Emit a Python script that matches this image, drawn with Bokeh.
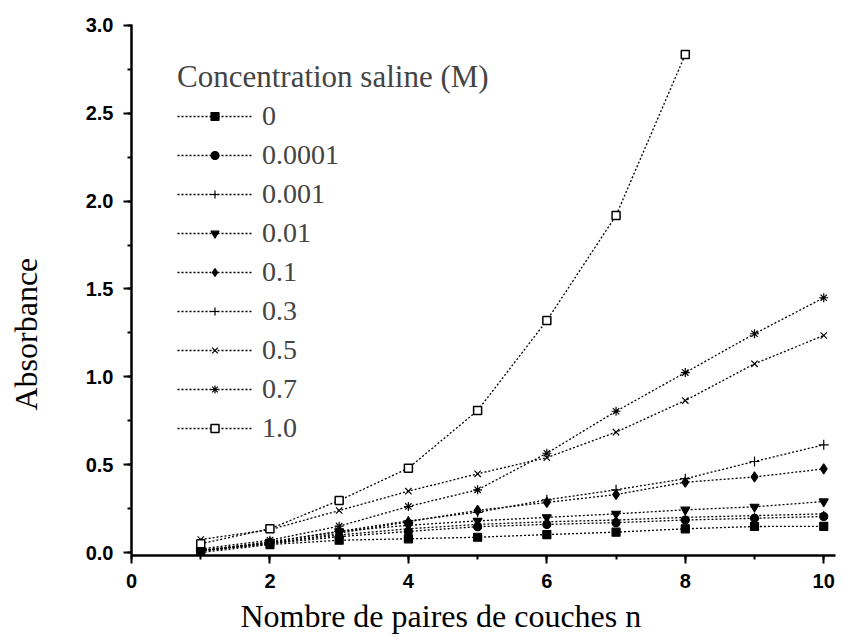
from bokeh.plotting import figure
from bokeh.models import (Range1d, SingleIntervalTicker, FixedTicker, Legend, LegendItem,
                          Title, LinearAxis, PrintfTickFormatter)
from bokeh.embed import file_html
from bokeh.resources import INLINE

# ---- data ----
n_layers = [1, 2, 3, 4, 5, 6, 7, 8, 9, 10]
n_layers_1M = [1, 2, 3, 4, 5, 6, 7, 8]

abs_0 = [0.00, 0.045, 0.07, 0.078, 0.087, 0.102, 0.116, 0.135, 0.148, 0.149]
abs_00001 = [0.01, 0.05, 0.09, 0.12, 0.147, 0.16, 0.17, 0.185, 0.195, 0.205]
abs_0001 = [0.01, 0.055, 0.10, 0.135, 0.16, 0.175, 0.185, 0.20, 0.21, 0.22]
abs_001 = [0.01, 0.06, 0.12, 0.155, 0.18, 0.20, 0.22, 0.243, 0.26, 0.29]
abs_01 = [0.01, 0.05, 0.11, 0.175, 0.24, 0.285, 0.33, 0.40, 0.43, 0.476]
abs_03 = [0.01, 0.06, 0.12, 0.18, 0.229, 0.30, 0.357, 0.42, 0.518, 0.613]
abs_05 = [0.074, 0.13, 0.239, 0.349, 0.448, 0.54, 0.685, 0.865, 1.074, 1.235]
abs_07 = [0.02, 0.07, 0.15, 0.262, 0.357, 0.565, 0.804, 1.024, 1.245, 1.45]
abs_1 = [0.05, 0.135, 0.296, 0.48, 0.808, 1.32, 1.918, 2.834]

concentrations = ["0", "0.0001", "0.001", "0.01", "0.1", "0.3", "0.5", "0.7", "1.0"]

x_label = "Nombre de paires de couches n"
y_label = "Absorbance"
legend_title = "Concentration saline (M)"

series = [
    (n_layers, abs_0, "square", 8, "black"),
    (n_layers, abs_00001, "circle", 8, "black"),
    (n_layers, abs_0001, "cross", 6, "black"),
    (n_layers, abs_001, "inverted_triangle", 9, "black"),
    (n_layers, abs_01, "diamond", 10, "black"),
    (n_layers, abs_03, "cross", 10, "black"),
    (n_layers, abs_05, "x", 9, "black"),
    (n_layers, abs_07, "asterisk", 9, "black"),
    (n_layers_1M, abs_1, "square", 8, "white"),
]

SERIF = "Liberation Serif"
SANS = "Liberation Sans"

p = figure(width=840, height=644, output_backend="svg", toolbar_location=None,
           x_range=Range1d(0, 10.17), y_range=Range1d(-0.017, 3.005),
           min_border_left=131, min_border_right=5, min_border_top=24,
           min_border_bottom=89)

p.outline_line_color = None
p.grid.visible = False
p.background_fill_color = "white"

p.xaxis.ticker = SingleIntervalTicker(interval=2, num_minor_ticks=2)
p.yaxis.ticker = SingleIntervalTicker(interval=0.5, num_minor_ticks=2)
p.yaxis.formatter = PrintfTickFormatter(format="%.1f")

for ax in (p.xaxis, p.yaxis):
    ax.axis_line_width = 2.5
    ax.axis_line_color = "black"
    ax.major_tick_line_width = 2
    ax.minor_tick_line_width = 2
    ax.major_tick_out = 8
    ax.major_tick_in = 0
    ax.minor_tick_out = 4
    ax.minor_tick_in = 0
    ax.major_label_text_font = SANS
    ax.major_label_text_font_style = "bold"
    ax.major_label_text_font_size = "20px"
    ax.major_label_text_color = "black"
    ax.major_label_standoff = 10

items = []
for label, (xs, ys, marker, size, fill) in zip(concentrations, series):
    lr = p.line(xs, ys, line_color="black", line_width=1.3, line_dash="2 2")
    sr = p.scatter(xs, ys, marker=marker, size=size, line_color="black",
                   fill_color=fill, line_width=1.5 if fill == "white" else 1.2)
    items.append(LegendItem(label=label, renderers=[lr, sr]))

legend = Legend(items=items, location=(46, 108), title=legend_title,
                title_text_font=SERIF, title_text_font_size="31px",
                title_text_font_style="normal", title_standoff=1,
                label_text_font=SERIF, label_text_font_size="28px",
                glyph_width=75, glyph_height=20, label_height=39, label_standoff=10,
                spacing=0, padding=0, margin=0,
                border_line_alpha=0, background_fill_alpha=0)
p.add_layout(legend, "center")

# blank spacer between the y tick labels and the y title (white tick, empty label)
spacer = LinearAxis(ticker=FixedTicker(ticks=[1.5]), axis_line_color=None,
                    major_tick_out=38, major_tick_in=0, minor_tick_out=0,
                    major_label_standoff=0, major_label_overrides={1.5: ""},
                    major_tick_line_color="white", minor_tick_line_color="white")
p.add_layout(spacer, "left")

p.add_layout(Title(text=y_label, align="left", offset=145, vertical_align="middle",
                   standoff=0, text_font=SERIF, text_font_size="32px",
                   text_font_style="normal", text_color="black"), "left")
p.add_layout(Title(text=x_label, align="left", offset=109, vertical_align="bottom",
                   standoff=10, text_font=SERIF, text_font_size="32px",
                   text_font_style="normal", text_color="black"), "below")

open("out.html", "w").write(file_html(p, INLINE))
